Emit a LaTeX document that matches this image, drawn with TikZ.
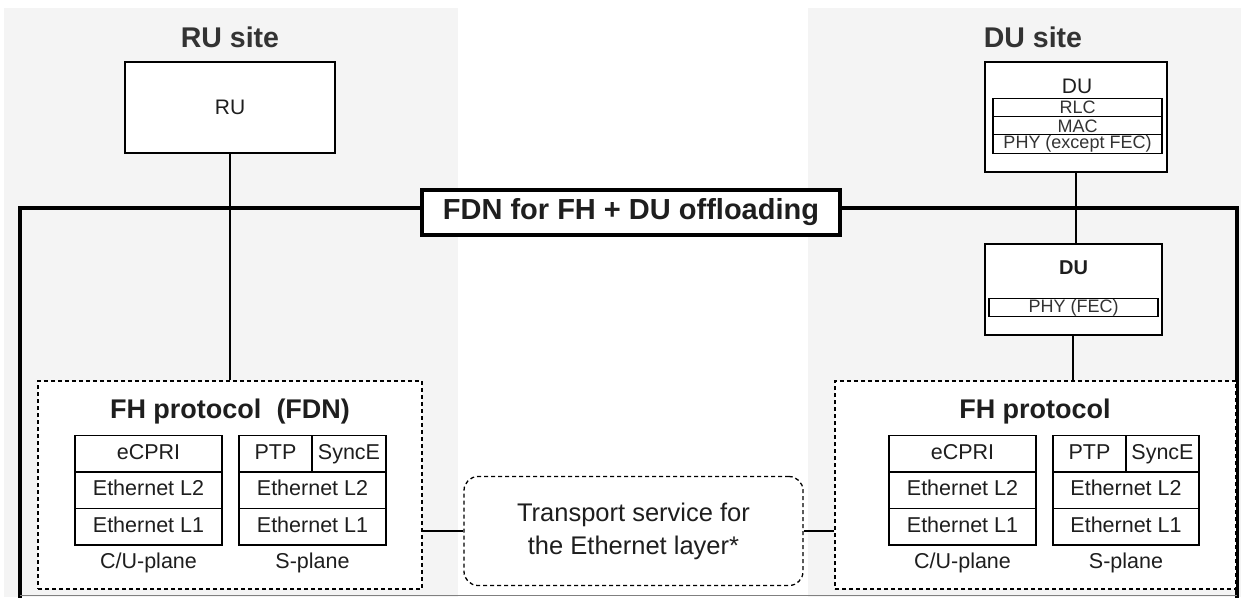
\documentclass[tikz,border=0pt]{standalone}
\usepackage{fontspec}
\setmainfont{Liberation Sans}
\definecolor{bg}{HTML}{F4F4F4}
\definecolor{txt}{HTML}{1E1E1E}
\definecolor{titlec}{HTML}{333333}
\begin{document}
\begin{tikzpicture}[x=1pt,y=-1pt,
 every node/.style={text=txt},
 cell/.style={draw=black,line width=1.5pt,fill=white,inner sep=0pt,minimum height=36.5pt,text height=15.5pt,text depth=4.5pt,font=\fontsize{21.5}{24}\selectfont},
 dubox/.style={draw=black,line width=1.4pt,fill=white,inner sep=0pt},
 rowbox/.style={draw=black,line width=1.4pt,fill=white,inner sep=0pt,minimum width=169pt,minimum height=18.5pt,font=\fontsize{18}{18}\selectfont,text=titlec},
 dbox/.style={draw=black,line width=1.3pt,dash pattern=on 4pt off 3pt,fill=white,inner sep=0pt},
 title/.style={font=\fontsize{27}{30}\selectfont\bfseries},
 sitetitle/.style={font=\fontsize{28.5}{30}\selectfont\bfseries,text=titlec},
 lbl/.style={font=\fontsize{21.5}{24}\selectfont},
 link/.style={draw=black,line width=1.4pt}]
\path[use as bounding box] (0,0) rectangle (1241,597);
\fill[white] (0,0) rectangle (1241,597);
\fill[bg] (4,8) rectangle (458,597);
\fill[bg] (808,8) rectangle (1241,597);
% FDN frame
\draw[line width=4.5pt] (20,599) -- (20,208) -- (1237,208) -- (1237,599);
\draw[gray,line width=1pt] (20,595.5) -- (1237,595.5);
% site titles
\node[sitetitle] (rusite) at (230,37) {RU site};
\node[sitetitle] (dusite) at (1033,37) {DU site};
% RU
\node[dubox,minimum width=210pt,minimum height=91pt,font=\fontsize{21}{21}\selectfont] (ru) at (230,107.5) {RU};
% DU top
\node[dubox,minimum width=182pt,minimum height=110pt] (du1) at (1076,117) {};
\node[font=\fontsize{21}{21}\selectfont] (du1t) at (1077,86) {DU};
\node[rowbox] (rlc) at (1077.5,107.5) {RLC};
\node[rowbox] (mac) at (1077.5,126) {MAC};
\node[rowbox] (phy1) at (1077.5,144) {PHY (except FEC)};
% DU lower
\node[dubox,minimum width=177pt,minimum height=91pt] (du2) at (1073.5,289.5) {};
\node[font=\fontsize{20}{20}\selectfont\bfseries] (du2t) at (1073.5,268) {DU};
\node[rowbox] (phy2) at (1073.5,307.5) {PHY (FEC)};
% FH boxes
\node[dbox,minimum width=384pt,minimum height=208pt] (lfh) at (230,485) {};
\node[dbox,minimum width=401pt,minimum height=208pt] (rfh) at (1035.5,485) {};
\node[dbox,rounded corners=14pt,minimum width=339pt,minimum height=109pt,align=center,font=\fontsize{25.5}{33}\selectfont] (tr) at (633.5,531) {Transport service for\\the Ethernet layer*};
% connectors
\draw[link] (ru.south) -- (ru.south |- lfh.north);
\draw[link] (du1.south) -- (du1.south |- du2.north);
\draw[link] ([xshift=-0.5pt]du2.south) -- ([xshift=-0.5pt]du2.south |- rfh.north);
\draw[link] (tr.west) -- (tr.west -| lfh.east);
\draw[link] (tr.east) -- (tr.east -| rfh.west);
% FDN label
\node[draw=black,line width=4.5pt,fill=white,minimum width=418pt,minimum height=45pt,inner sep=0pt,font=\fontsize{29}{30}\selectfont\bfseries] (fdn) at (631,212.5) {FDN for FH + DU offloading};
% left FH content
\node[title] (lfht) at (230,412) {FH protocol\ \ (FDN)};
\node[cell,minimum width=147pt] (lcu1) at (148.5,453.5) {eCPRI};
\node[cell,minimum width=147pt] (lcu2) at (148.5,490) {Ethernet L2};
\node[cell,minimum width=147pt] (lcu3) at (148.5,526.5) {Ethernet L1};
\node[cell,minimum width=73pt] (lptp) at (275.5,453.5) {PTP};
\node[cell,minimum width=74pt] (lsye) at (349,453.5) {SyncE};
\node[cell,minimum width=147pt] (ls2) at (312.5,490) {Ethernet L2};
\node[cell,minimum width=147pt] (ls3) at (312.5,526.5) {Ethernet L1};
\node[lbl] (lcul) at (148.5,563) {C/U-plane};
\node[lbl] (lsl) at (312.5,563) {S-plane};
% right FH content
\node[title] (rfht) at (1035,412) {FH protocol};
\node[cell,minimum width=147pt] (rcu1) at (962.5,453.5) {eCPRI};
\node[cell,minimum width=147pt] (rcu2) at (962.5,490) {Ethernet L2};
\node[cell,minimum width=147pt] (rcu3) at (962.5,526.5) {Ethernet L1};
\node[cell,minimum width=73pt] (rptp) at (1089.5,453.5) {PTP};
\node[cell,minimum width=73pt] (rsye) at (1162.5,453.5) {SyncE};
\node[cell,minimum width=146pt] (rs2) at (1126,490) {Ethernet L2};
\node[cell,minimum width=146pt] (rs3) at (1126,526.5) {Ethernet L1};
\node[lbl] (rcul) at (962.5,563) {C/U-plane};
\node[lbl] (rsl) at (1126,563) {S-plane};
\end{tikzpicture}
\end{document}
